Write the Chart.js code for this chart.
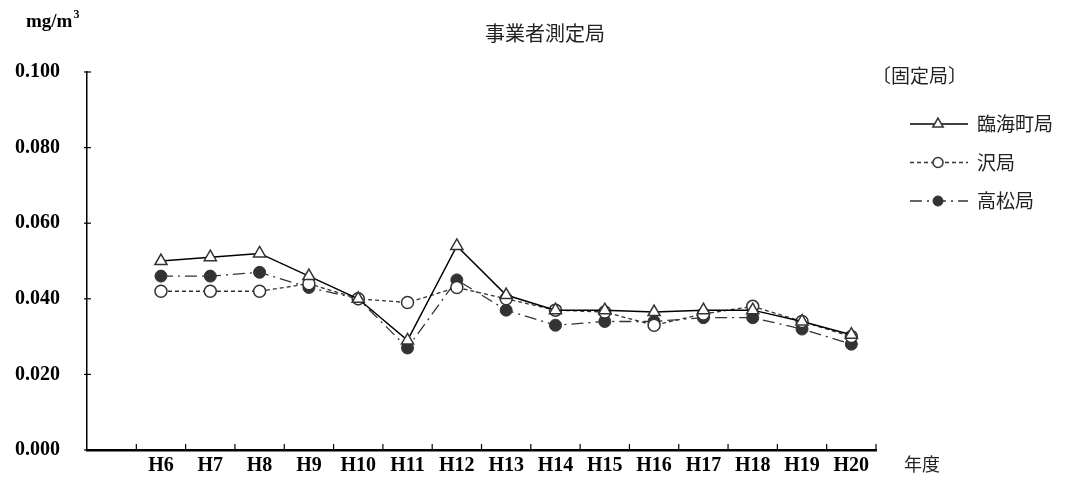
<!DOCTYPE html>
<html>
<head>
<meta charset="utf-8">
<script src="https://cdn.jsdelivr.net/npm/chart.js@4/dist/chart.umd.min.js"></script>
<style>
  html, body { margin: 0; padding: 0; background: #fff; }
  #wrap { width: 1091px; height: 497px; }
</style>
</head>
<body>
<div id="wrap"><canvas id="chart"></canvas></div>
<script>
// fiscal years (Heisei)
const years = ['H6', 'H7', 'H8', 'H9', 'H10', 'H11', 'H12', 'H13', 'H14', 'H15', 'H16', 'H17', 'H18', 'H19', 'H20'];

// annual means, mg/m3
const rinkaicho = [0.050, 0.051, 0.052, 0.046, 0.040, 0.029, 0.054, 0.041, 0.037, 0.037, 0.0365, 0.037, 0.037, 0.034, 0.0305];
const sawa      = [0.042, 0.042, 0.042, 0.044, 0.040, 0.039, 0.043, 0.040, 0.037, 0.0365, 0.033, 0.036, 0.038, 0.034, 0.030];
const takamatsu = [0.046, 0.046, 0.047, 0.043, 0.040, 0.027, 0.045, 0.037, 0.033, 0.034, 0.034, 0.035, 0.035, 0.032, 0.028];

const seriesNames = ['臨海町局', '沢局', '高松局'];
const yTicks = [0, 0.02, 0.04, 0.06, 0.08, 0.1];

const serif = '"Liberation Serif", "DejaVu Serif", serif';
const jp = '"Noto Sans CJK JP", "Noto Sans", sans-serif';

// first slot on the x axis is left empty
const labels = [''].concat(years);
const pad = arr => [null].concat(arr);

// titles, unit, legend and the small axis tick marks
const extras = {
    id: 'extras',
    afterDraw(chart) {
        const ctx = chart.ctx;
        const x = chart.scales.x, y = chart.scales.y;
        ctx.save();

        // tick marks: y crosses the axis, x points up into the plot
        ctx.strokeStyle = '#000';
        ctx.lineWidth = 1.2;
        yTicks.forEach(v => {
            const py = y.getPixelForValue(v);
            ctx.beginPath();
            ctx.moveTo(x.left - 3, py);
            ctx.lineTo(x.left + 4, py);
            ctx.stroke();
        });
        const slot = x.width / labels.length;
        for (let i = 1; i <= labels.length; i++) {
            const px = x.left + i * slot;
            ctx.beginPath();
            ctx.moveTo(px, x.top);
            ctx.lineTo(px, x.top - 6);
            ctx.stroke();
        }

        // title
        ctx.fillStyle = '#222';
        ctx.font = '20px ' + jp;
        ctx.textAlign = 'center';
        ctx.textBaseline = 'middle';
        ctx.fillText('事業者測定局', 545, 33);

        // unit
        ctx.fillStyle = '#000';
        ctx.textAlign = 'left';
        ctx.textBaseline = 'alphabetic';
        ctx.font = 'bold 19px ' + serif;
        ctx.fillText('mg/m', 26, 27);
        const w = ctx.measureText('mg/m').width;
        ctx.font = 'bold 12px ' + serif;
        ctx.fillText('3', 26 + w + 1, 18);

        // x axis name
        ctx.fillStyle = '#222';
        ctx.font = '18px ' + jp;
        ctx.textBaseline = 'middle';
        ctx.fillText('年度', 904, 464);

        // legend
        ctx.font = '19px ' + jp;
        ctx.fillText('〔固定局〕', 872, 76);
        chart.data.datasets.forEach((ds, i) => {
            const ly = 124 + i * 38.5;
            ctx.save();
            ctx.strokeStyle = ds.borderColor;
            ctx.lineWidth = ds.borderWidth;
            ctx.setLineDash(ds.borderDash || []);
            ctx.beginPath();
            ctx.moveTo(910, ly);
            ctx.lineTo(968, ly);
            ctx.stroke();
            ctx.restore();
            ctx.fillStyle = ds.pointBackgroundColor;
            ctx.strokeStyle = ds.pointBorderColor;
            ctx.lineWidth = ds.pointBorderWidth;
            Chart.helpers.drawPoint(ctx, {
                pointStyle: ds.pointStyle,
                radius: ds.pointRadius - 1,
                borderWidth: ds.pointBorderWidth
            }, 938, ly);
            ctx.fillStyle = '#222';
            ctx.fillText(seriesNames[i], 977, ly);
        });

        ctx.restore();
    }
};

new Chart(document.getElementById('chart'), {
    type: 'line',
    data: {
        labels: labels,
        datasets: [{
            label: seriesNames[0],
            data: pad(rinkaicho),
            borderColor: '#000',
            borderWidth: 1.5,
            pointStyle: 'triangle',
            pointRadius: 7,
            pointBackgroundColor: '#fff',
            pointBorderColor: '#333',
            pointBorderWidth: 1.5
        }, {
            label: seriesNames[1],
            data: pad(sawa),
            borderColor: '#333',
            borderWidth: 1.3,
            borderDash: [4, 3],
            pointStyle: 'circle',
            pointRadius: 6,
            pointBackgroundColor: '#fff',
            pointBorderColor: '#333',
            pointBorderWidth: 1.5
        }, {
            label: seriesNames[2],
            data: pad(takamatsu),
            borderColor: '#333',
            borderWidth: 1.3,
            borderDash: [12, 5, 2, 5],
            pointStyle: 'circle',
            pointRadius: 6,
            pointBackgroundColor: '#333',
            pointBorderColor: '#333',
            pointBorderWidth: 1
        }]
    },
    options: {
        responsive: true,
        maintainAspectRatio: false,
        animation: false,
        layout: {
            padding: { top: 72, right: 215, bottom: 0, left: 0 }
        },
        scales: {
            x: {
                offset: true,
                grid: { display: false, drawTicks: false },
                border: { display: true, color: '#000', width: 2.5 },
                ticks: {
                    color: '#000',
                    padding: 4,
                    maxRotation: 0,
                    autoSkip: false,
                    font: { family: serif, size: 20, weight: 'bold' }
                },
                afterFit: s => { s.height = 47; }
            },
            y: {
                min: 0,
                max: 0.1,
                afterBuildTicks: s => { s.ticks = yTicks.map(v => ({ value: v })); },
                grid: { display: false, drawTicks: false },
                border: { display: true, color: '#000', width: 1.5 },
                ticks: {
                    color: '#000',
                    padding: 27,
                    callback: v => v.toFixed(3),
                    font: { family: serif, size: 20, weight: 'bold' }
                },
                afterFit: s => { s.width = 87; }
            }
        },
        plugins: {
            legend: { display: false },
            tooltip: { enabled: false }
        }
    },
    plugins: [extras]
});
</script>
</body>
</html>
